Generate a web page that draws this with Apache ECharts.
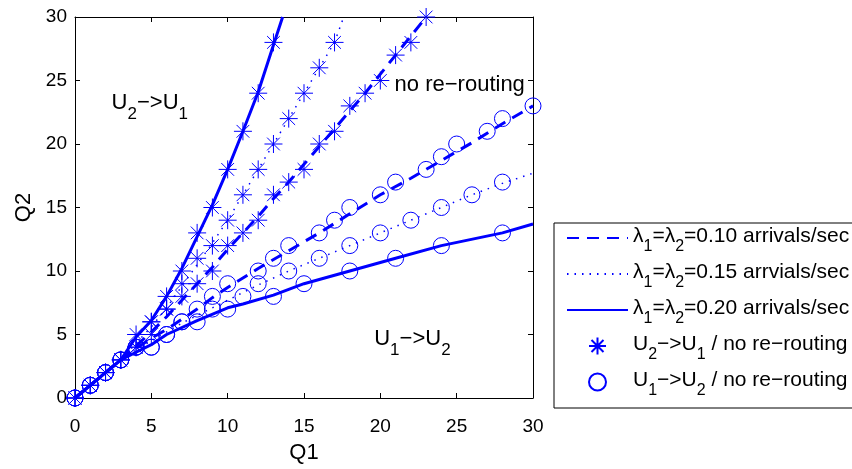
<!DOCTYPE html>
<html><head><meta charset="utf-8">
<script src="https://cdn.jsdelivr.net/npm/echarts@6/dist/echarts.min.js"></script>
<style>html,body{margin:0;padding:0;background:#fff;overflow:hidden}#c{width:852px;height:469px}</style>
</head><body><div id="c"></div>
<script>
// ---------- data ----------
const xTicks = [0, 5, 10, 15, 20, 25, 30];
const yTicks = [0, 5, 10, 15, 20, 25, 30];

// threshold curves (upper: U2->U1 boundary, lower: U1->U2 boundary)
const upper010 = [[0,0],[3,3],[4,4.1],[5,5.2],[6,6.4],[7,7.7],[8,9],[9,10.3],[10,11.7],[11,13],[12,14.3],[13,15.7],[14,17],[15,18.4],[16,19.8],[17,21.2],[18,22.6],[19,24],[20,25.5],[21,27],[22,28.5],[23,30]];
const lower010 = [[0,0],[3,3],[4,3.9],[5,4.7],[6,5.4],[7,6.2],[8,7],[9,7.9],[10,8.7],[12,10.2],[14,11.6],[16,13],[18,14.5],[20,16],[22,17.3],[24,18.7],[26,20.1],[28,21.6],[30,23]];
const upper015 = [[0,0],[3,3],[4,4.3],[5,5.6],[6,7.1],[7,8.8],[8,10.5],[9,12.2],[10,14],[11,16],[12,18],[13,20],[14,22],[15,24],[16,26],[17,28],[17.6,30]];
const lower015 = [[0,0],[3,3],[4,3.8],[5,4.5],[6,5.2],[7,5.9],[8,6.5],[9,7.1],[10,7.7],[11,8.3],[12,8.9],[14,10],[16,11],[18,12],[20,13],[22,14],[24,15],[26,16],[28,16.9],[30,17.7]];
const upper020 = [[0,0],[3,3],[4,4.8],[5,6.1],[6,8],[7,10.2],[8,12.7],[9,15.2],[10,18],[11,21],[12,24.1],[13,27.8],[13.6,30]];
const lower020 = [[0,0],[3,3],[4,3.6],[5,4.2],[6,5],[8,6.1],[10,7.1],[11,7.4],[13,8.1],[15,9],[18,10],[21,11],[24,12],[28,13],[30,13.7]];

// simulation points: U2->U1 / no re-routing (stars)
const stars010 = [[0,0],[1,1],[2,2],[3,3],[4,4],[5,5],[6,7],[7,8],[8,9],[9,10],[10,12],[11,13],[12,14],[13,16],[14,17],[15,18],[16,20],[17,21],[18,23],[19,24],[20,25],[21,27],[22,28],[23,30]];
const stars015 = [[0,0],[1,1],[2,2],[3,3],[4,4],[5,6],[6,7],[7,9],[8,11],[9,12],[10,14],[11,16],[12,18],[13,20],[14,22],[15,24],[16,26],[17,28]];
const stars020 = [[0,0],[1,1],[2,2],[3,3],[4,5],[5,6],[6,8],[7,10],[8,13],[9,15],[10,18],[11,21],[12,24],[13,28]];
// simulation points: U1->U2 / no re-routing (circles)
const circles010 = [[0,0],[1,1],[2,2],[3,3],[4,4],[6,5],[7,6],[8,7],[9,8],[10,9],[12,10],[13,11],[14,12],[16,13],[17,14],[18,15],[20,16],[21,17],[23,18],[24,19],[25,20],[27,21],[28,22],[30,23]];
const circles015 = [[0,0],[1,1],[2,2],[3,3],[4,4],[5,4],[7,6],[9,7],[11,8],[12,9],[14,10],[16,11],[18,12],[20,13],[22,14],[24,15],[26,16],[28,17]];
const circles020 = [[0,0],[1,1],[2,2],[3,3],[4,4],[5,4],[6,5],[8,6],[10,7],[13,8],[15,9],[18,10],[21,11],[24,12],[28,13]];

const seriesNames = ['L10', 'L15', 'L20', 'STAR', 'CIRC'];
const legendLabels = {
  L10: '{m|λ}{s|1}{m|=λ}{s|2}{m|=0.10 arrivals/sec}',
  L15: '{m|λ}{s|1}{m|=λ}{s|2}{m|=0.15 arrvials/sec}',
  L20: '{m|λ}{s|1}{m|=λ}{s|2}{m|=0.20 arrivals/sec}',
  STAR: '{m|U}{s|2}{m|−>U}{s|1}{m| / no re−routing}',
  CIRC: '{m|U}{s|1}{m|−>U}{s|2}{m| / no re−routing}'
};
const annotations = [
  { text: '{m|U}{s|2}{m|−>U}{s|1}', at: [4.9, 23.14] },
  { text: '{m|no re−routing}', at: [25.2, 24.6] },
  { text: '{m|U}{s|1}{m|−>U}{s|2}', at: [22.1, 4.57] }
];

// ---------- styles ----------
const BLUE = '#0000ff';
const FONT = 'Liberation Sans';
const STAR = 'path://M0,-10L0,10M-10,0L10,0M-7.07,-7.07L7.07,7.07M-7.07,7.07L7.07,-7.07';
const rich = {
  m: { fontSize: 21, fontFamily: FONT, color: '#000', lineHeight: 24, verticalAlign: 'top' },
  s: { fontSize: 16, fontFamily: FONT, color: '#000', lineHeight: 16, verticalAlign: 'top', padding: [13, 0, 5, 0] }
};

function lineSeries(name, data, type, width) {
  return { name, type: 'line', data, symbol: 'none', showSymbol: false, clip: true,
    color: BLUE, lineStyle: { color: BLUE, type, width }, z: 2, silent: true };
}
function markSeries(name, data, symbol, size) {
  return { name, type: 'scatter', data, symbol, symbolSize: size, clip: false,
    itemStyle: { color: 'rgba(0,0,0,0)', borderColor: BLUE, borderWidth: 1, opacity: 1 }, z: 3, silent: true };
}

const axisCommon = { type: 'value', min: 0, max: 30, interval: 5,
  axisLine: { show: true, onZero: false, lineStyle: { color: '#000', width: 1 } },
  axisTick: { show: true, inside: true, length: 5, lineStyle: { color: '#000' } },
  splitLine: { show: false } };

const hiddenSymbol = { color: 'rgba(0,0,0,0)', borderColor: 'rgba(0,0,0,0)', borderWidth: 0 };

const chart = echarts.init(document.getElementById('c'), null, { renderer: 'canvas' });
chart.setOption({
  animation: false,
  backgroundColor: '#fff',
  grid: { left: 75, right: 319, top: 17, bottom: 61, containLabel: false },
  xAxis: [
    Object.assign({}, axisCommon, { position: 'bottom',
      axisLabel: { color: '#000', fontSize: 19, fontFamily: FONT, margin: 19,
        formatter: v => xTicks.includes(v) ? String(v) : '' },
      name: 'Q1', nameLocation: 'middle', nameGap: 44,
      nameTextStyle: { color: '#000', fontSize: 22, fontFamily: FONT } }),
    Object.assign({}, axisCommon, { position: 'top', axisLabel: { show: false } })
  ],
  yAxis: [
    Object.assign({}, axisCommon, { position: 'left',
      axisLabel: { color: '#000', fontSize: 19, fontFamily: FONT, margin: 8,
        formatter: v => yTicks.includes(v) ? String(v) : '' },
      name: 'Q2', nameLocation: 'middle', nameGap: 34,
      nameTextStyle: { color: '#000', fontSize: 22, fontFamily: FONT } }),
    Object.assign({}, axisCommon, { position: 'right', axisLabel: { show: false } })
  ],
  legend: {
    orient: 'vertical', left: 554, top: 223,
    data: [
      { name: 'L10', itemStyle: hiddenSymbol },
      { name: 'L15', itemStyle: hiddenSymbol },
      { name: 'L20', itemStyle: hiddenSymbol },
      { name: 'STAR' },
      { name: 'CIRC' }
    ],
    selectedMode: false,
    itemWidth: 61, itemHeight: 17, itemGap: 2,
    padding: [3, 60, 4, 12],
    borderColor: '#000', borderWidth: 1,
    symbolKeepAspect: true,
    formatter: n => legendLabels[n],
    textStyle: { rich }
  },
  series: [
    lineSeries('L10', upper010, [12, 8], 3),
    lineSeries('L10', lower010, [12, 8], 3),
    lineSeries('L15', upper015, [1.5, 6], 1.5),
    lineSeries('L15', lower015, [1.5, 6], 1.5),
    lineSeries('L20', upper020, 'solid', 3),
    lineSeries('L20', lower020, 'solid', 3),
    markSeries('STAR', stars010, STAR, 18),
    markSeries('STAR', stars015, STAR, 18),
    markSeries('STAR', stars020, STAR, 18),
    markSeries('CIRC', circles010, 'circle', 16),
    markSeries('CIRC', circles015, 'circle', 16),
    markSeries('CIRC', circles020, 'circle', 16)
  ]
});

const graphics = annotations.map(a => {
  const p = chart.convertToPixel({ gridIndex: 0 }, a.at);
  return { type: 'text', x: p[0], y: p[1], z: 10, silent: true,
    style: { text: a.text, rich: {
      m: { fontSize: 22, fontFamily: FONT, fill: '#000', lineHeight: 24, verticalAlign: 'top' },
      s: { fontSize: 17, fontFamily: FONT, fill: '#000', lineHeight: 17, verticalAlign: 'top', padding: [14, 0, 0, 0] }
    }, align: 'center', verticalAlign: 'middle' } };
});
chart.setOption({ graphic: graphics });
</script>
</body></html>
